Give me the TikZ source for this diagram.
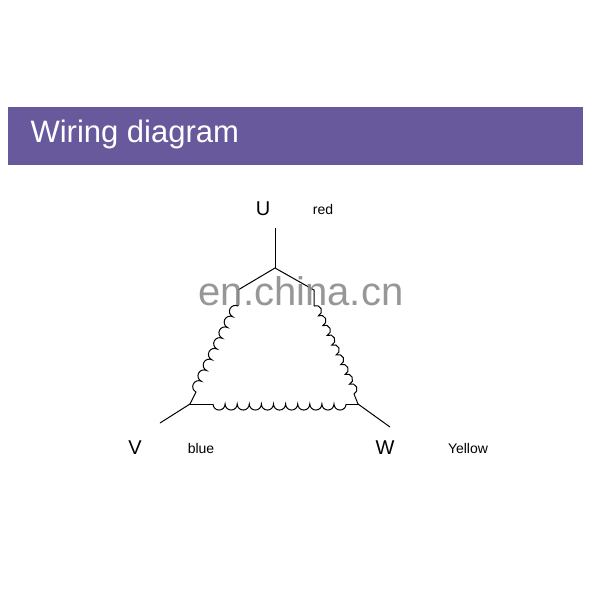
\documentclass[tikz,border=0pt]{standalone}
\usepackage{fontspec}
\setmainfont{Liberation Sans}
\definecolor{band}{RGB}{104,88,156}
\begin{document}
\begin{tikzpicture}[x=1pt,y=-1pt,
  wire/.style={line width=1pt,black},
  big/.style={font=\fontsize{20}{20}\selectfont},
  small/.style={font=\fontsize{14}{14}\selectfont}]
\useasboundingbox (0,0) rectangle (600,600);
\fill[band] (8,107) rectangle (583,165);
\node[anchor=west,text=white,font=\fontsize{31}{31}\selectfont] (title) at (27,134) {Wiring diagram};
\coordinate (ut) at (275,228);
\coordinate (uj) at (275,268);
\coordinate (lt) at (238,306);
\coordinate (lb) at (196,392);
\coordinate (rt) at (314,306);
\coordinate (rb) at (354,394);
\coordinate (vc) at (190,404);
\coordinate (wc) at (358,404);
\coordinate (bl) at (213,404);
\coordinate (br) at (346,404);
\coordinate (vl) at (160,423);
\coordinate (wl) at (390,427);
\draw[wire] (ut) -- (uj);
\draw[wire] (uj) -- (238,290) -- (lt);
\draw[wire] (uj) -- (314,290) -- (rt);
\begin{scope}[shift={(lt)},rotate=-116.0]
\draw[wire] (0,0) foreach \i in {1,...,8}{ arc[start angle=180,end angle=0,radius=5.98] };
\end{scope}
\begin{scope}[shift={(rt)},rotate=-65.6]
\draw[wire] (0,0) foreach \i in {1,...,9}{ arc[start angle=180,end angle=360,radius=5.37] };
\end{scope}
\begin{scope}[shift={(bl)}]
\draw[wire] (0,0) foreach \i in {1,...,11}{ arc[start angle=180,end angle=0,radius=6.05] };
\end{scope}
\draw[wire] (lb) -- (vc);
\draw[wire] (rb) -- (wc);
\draw[wire] (vc) -- (bl);
\draw[wire] (br) -- (wc);
\draw[wire] (vc) -- (vl);
\draw[wire] (wc) -- (wl);
\node[big] (U) at (263,209) {U};
\node[small] (red) at (323,209) {red};
\node[big] (V) at (135,448) {V};
\node[small] (blue) at (201,448) {blue};
\node[big] (W) at (385,448) {W};
\node[small] (yel) at (468,448) {Yellow};
\node[text=black!45,opacity=0.9,font=\fontsize{40}{40}\selectfont] (wm) at (301,291) {en.china.cn};
\end{tikzpicture}
\end{document}
